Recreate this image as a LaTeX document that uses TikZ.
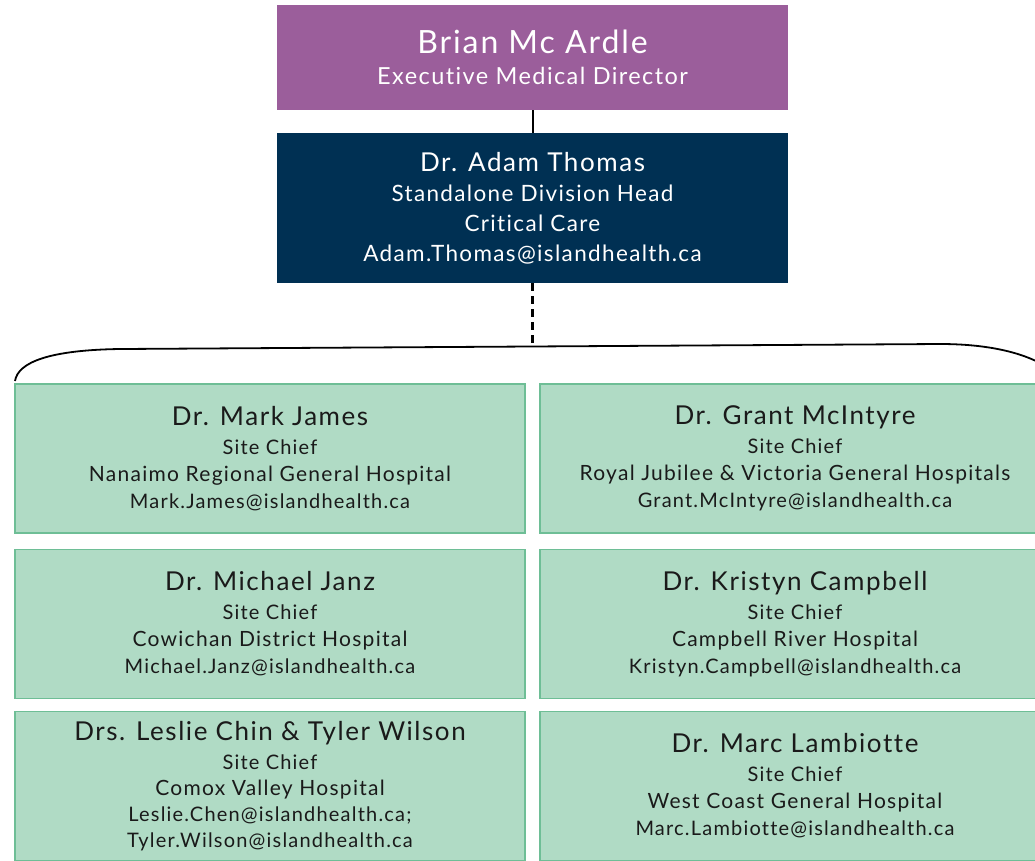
\documentclass[tikz,border=0pt]{standalone}
\usepackage{fontspec}
\setmainfont[LetterSpace=6,Ligatures=NoCommon]{Lato}
\definecolor{purp}{RGB}{155,94,155}
\definecolor{navy}{RGB}{0,48,83}
\definecolor{gfill}{RGB}{176,219,197}
\definecolor{gline}{RGB}{110,190,150}
\definecolor{txt}{RGB}{26,26,26}
\newcommand\nm[1]{{\fontsize{26}{27}\selectfont #1}}
\newcommand\hs[1]{{\fontsize{21}{27}\selectfont #1}}
\begin{document}
\begin{tikzpicture}[x=1pt,y=-1pt,
  topbox/.style={fill=purp, draw=none, minimum width=511pt, minimum height=105pt,
    text=white, align=center, inner sep=0pt, font=\fontsize{23.5}{31}\selectfont},
  headbox/.style={fill=navy, draw=none, minimum width=511pt, minimum height=150pt,
    text=white, align=center, inner sep=0pt, font=\fontsize{22.5}{30}\selectfont},
  sitebox/.style={fill=gfill, draw=gline, line width=1.2pt, minimum width=510pt,
    minimum height=149pt, text=txt, align=center, inner sep=0pt,
    font=\fontsize{20}{27}\selectfont},
  link/.style={line width=2pt, draw=black},
  dlink/.style={line width=2.2pt, draw=black, dash pattern=on 8pt off 5pt},
  bracket/.style={line width=1.8pt, draw=black}]
\useasboundingbox (0,0) rectangle (1035,860);
\clip (0,0) rectangle (1035,860);

\node[topbox] (ed) at (532.5,57.5) {{\fontsize{32}{31}\selectfont Brian Mc Ardle}\\Executive Medical Director};
\node[headbox] (dh) at (532.5,208) {{\fontsize{26}{30}\selectfont Dr. Adam Thomas}\\Standalone Division Head\\Critical Care\\Adam.Thomas@islandhealth.ca};

\node[sitebox] (s1) at (270,458.5) {\nm{Dr. Mark James}\\[2pt]Site Chief\\\hs{Nanaimo Regional General Hospital}\\Mark.James@islandhealth.ca};
\node[sitebox] (s2) at (795,458.5) {\nm{Dr. Grant McIntyre}\\[2pt]Site Chief\\\hs{Royal Jubilee \& Victoria General Hospitals}\\Grant.McIntyre@islandhealth.ca};
\node[sitebox] (s3) at (270,624) {\nm{Dr. Michael Janz}\\[2pt]Site Chief\\\hs{Cowichan District Hospital}\\Michael.Janz@islandhealth.ca};
\node[sitebox] (s4) at (795,624) {\nm{Dr. Kristyn Campbell}\\[2pt]Site Chief\\\hs{Campbell River Hospital}\\Kristyn.Campbell@islandhealth.ca};
\node[sitebox, font=\fontsize{20}{26}\selectfont] (s5) at (270,786) {\nm{Drs. Leslie Chin \& Tyler Wilson}\\[3pt]Site Chief\\\hs{Comox Valley Hospital}\\Leslie.Chen@islandhealth.ca;\\Tyler.Wilson@islandhealth.ca};
\node[sitebox] (s6) at (795,786) {\nm{Dr. Marc Lambiotte}\\[2pt]Site Chief\\\hs{West Coast General Hospital}\\Marc.Lambiotte@islandhealth.ca};

\draw[bracket] (15,381) .. controls (18,362) and (50,350) .. (120,349) -- (940,344) .. controls (980,344) and (1015,350) .. (1040,363);
\coordinate (bt) at (532.5,346.5);

\draw[link] (ed.south) -- (dh.north);
\draw[dlink] (dh.south) -- (bt);
\end{tikzpicture}
\end{document}
